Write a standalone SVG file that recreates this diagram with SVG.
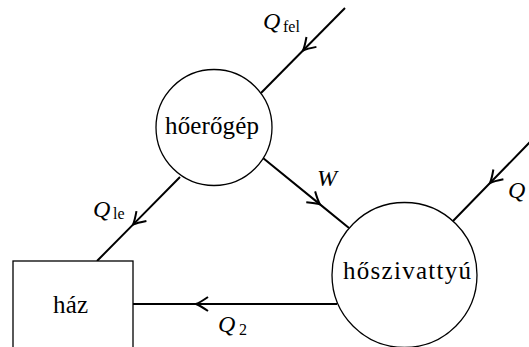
<svg xmlns="http://www.w3.org/2000/svg" width="529" height="347" viewBox="0 0 529 347">
<style>
.node{fill:#fff;stroke:#000;stroke-width:1.3}
.conn{fill:none;stroke:#000;stroke-width:2;marker-mid:url(#arr)}
.t{font-family:"Liberation Serif",serif;font-size:25px;fill:#000}
.l{font-family:"Liberation Serif",serif;font-size:24px;fill:#000}
.i{font-style:italic}
.s{font-size:16px;font-style:normal}
</style>
<defs>
<marker id="arr" markerUnits="userSpaceOnUse" viewBox="-14 -8 16 16" markerWidth="16" markerHeight="16" refX="0" refY="0" orient="auto" overflow="visible">
<path d="M -12,-7 Q -4,-1.5 0,0 Q -4,1.5 -12,7" fill="none" stroke="#000" stroke-width="2"/>
</marker>
</defs>
<g id="connectors">
<path class="conn" d="M 345,8 L 303,50.5 L 261,93"/>
<path class="conn" d="M 263,158 L 320,204.4 L 349,228"/>
<path class="conn" d="M 180,177 L 133,224.6 L 97,261"/>
<path class="conn" d="M 337,304 L 196,304 L 133,304"/>
<path class="conn" d="M 531,141 L 490,183 L 453,221"/>
</g>
<g id="hoeroegep">
<circle class="node" cx="214" cy="127.5" r="58"/>
<text class="t" x="212" y="134" text-anchor="middle" textLength="94">hőerőgép</text>
</g>
<g id="hoszivattyu">
<circle class="node" cx="404.5" cy="275" r="72.5"/>
<text class="t" x="407" y="279" text-anchor="middle" textLength="128">hőszivattyú</text>
</g>
<g id="haz">
<rect class="node" x="13" y="261" width="120" height="100"/>
<text class="t" x="53" y="313" textLength="35">ház</text>
</g>
<g id="labels">
<text class="l"><tspan class="i" x="263" y="29">Q</tspan><tspan class="s" x="283" y="32">fel</tspan></text>
<text class="l i" x="317" y="186">W</text>
<text class="l"><tspan class="i" x="93" y="217">Q</tspan><tspan class="s" x="113" y="219">le</tspan></text>
<text class="l"><tspan class="i" x="218" y="332">Q</tspan><tspan class="s" x="239" y="335">2</tspan></text>
<text class="l i" x="508" y="198">Q</text>
</g>
</svg>
